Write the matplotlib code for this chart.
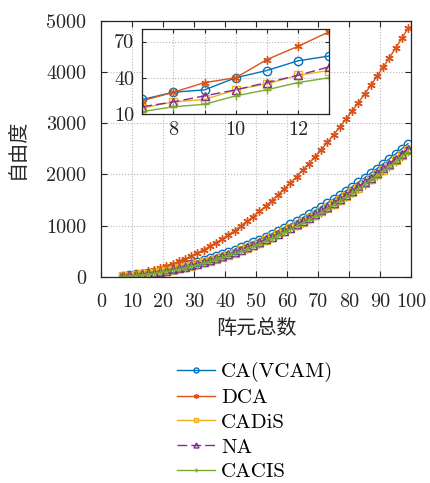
import matplotlib
matplotlib.use("Agg")
import matplotlib.pyplot as plt

plt.rcParams['font.family'] = ['cmr10', 'Noto Sans CJK SC', 'DejaVu Sans']
plt.rcParams['axes.formatter.use_mathtext'] = True

# ---- data ----
labels = ['CA(VCAM)', 'DCA', 'CADiS', 'NA', 'CACIS']
main_n = [7, 9, 11, 13, 15, 17, 19, 21, 23, 25, 27, 29, 31, 33, 35, 37, 39, 41, 43, 45,
          47, 49, 51, 53, 55, 57, 59, 61, 63, 65, 67, 69, 71, 73, 75, 77, 79, 81, 83, 85,
          87, 89, 91, 93, 95, 97, 99]
ca_main = [22, 30, 46, 58, 79, 98, 119, 142, 167, 194, 223, 254, 287, 322, 359, 398, 439,
           482, 527, 574, 623, 674, 727, 782, 839, 898, 959, 1022, 1087, 1154, 1223, 1294,
           1367, 1442, 1519, 1598, 1679, 1762, 1847, 1934, 2023, 2114, 2207, 2302, 2399,
           2498, 2599]
dca_main = [21, 36, 55, 78, 105, 136, 171, 210, 253, 300, 351, 406, 465, 528, 595, 666, 741,
            820, 903, 990, 1081, 1176, 1275, 1378, 1485, 1596, 1711, 1830, 1953, 2080, 2211,
            2346, 2485, 2628, 2775, 2926, 3081, 3240, 3403, 3570, 3741, 3916, 4095, 4278,
            4465, 4656, 4851]
cadis_main = [15, 22, 35, 46, 60, 77, 95, 116, 138, 163, 189, 218, 248, 281, 315, 352, 390,
              431, 473, 518, 564, 613, 663, 716, 770, 827, 885, 946, 1008, 1073, 1139, 1208,
              1278, 1351, 1425, 1502, 1580, 1661, 1743, 1828, 1914, 2003, 2093, 2186, 2280,
              2377, 2475]
na_main = [16, 25, 36, 49, 64, 81, 100, 121, 144, 169, 196, 225, 256, 289, 324, 361, 400,
           441, 484, 529, 576, 625, 676, 729, 784, 841, 900, 961, 1024, 1089, 1156, 1225,
           1296, 1369, 1444, 1521, 1600, 1681, 1764, 1849, 1936, 2025, 2116, 2209, 2304,
           2401, 2500]
cacis_main = [12, 18, 30, 40, 55, 71, 89, 108, 130, 154, 180, 208, 237, 269, 303, 339, 377,
              416, 458, 502, 548, 596, 645, 697, 751, 807, 865, 924, 986, 1050, 1116, 1184,
              1253, 1325, 1399, 1475, 1553, 1632, 1714, 1798, 1884, 1972, 2061, 2153, 2247,
              2343, 2441]

inset_n = [7, 8, 9, 10, 11, 12, 13]
ca_in = [22, 28, 30, 40, 46, 54, 58]
dca_in = [21, 28, 36, 40, 55, 66, 78]
cadis_in = [15, 20, 22, 30, 35, 42, 46]
na_in = [16, 20, 25, 30, 36, 42, 49]
cacis_in = [12, 16, 18, 25, 30, 36, 40]

main_xticks = [0, 10, 20, 30, 40, 50, 60, 70, 80, 90, 100]
main_yticks = [0, 1000, 2000, 3000, 4000, 5000]
inset_xticks = [7, 8, 9, 10, 11, 12, 13]
inset_xticklabels = ['', '8', '', '10', '', '12', '']
inset_yticks = [10, 40, 70]

colors = ['#0072BD', '#D95319', '#EDB120', '#7E2F8E', '#77AC30']
markers = ['o', (6, 2, 0), 's', '^', '+']
styles = ['-', '-', '-', (0, (7, 3)), '-']

main_series = [ca_main, dca_main, cadis_main, na_main, cacis_main]
inset_series = [ca_in, dca_in, cadis_in, na_in, cacis_in]

fig = plt.figure(figsize=(4.30, 4.83), dpi=100)
ax = fig.add_axes([0.236, 0.427, 0.720, 0.530])

for y, c, m, ls, lab in zip(main_series, colors, markers, styles, labels):
    ax.plot(main_n, y, color=c, marker=m, linestyle=ls, linewidth=1.0,
            markersize=6, markerfacecolor='none', markeredgewidth=1.0, label=lab)

ax.set_xlim(0, 100)
ax.set_ylim(0, 5000)
ax.set_xticks(main_xticks)
ax.set_xticklabels([str(v) for v in main_xticks])
ax.set_yticks(main_yticks)
ax.set_yticklabels([str(v) for v in main_yticks])
ax.tick_params(direction='in', top=True, right=True, length=4, width=0.8,
               labelsize=14.5, colors='#262626')
ax.tick_params(axis='x', pad=12)
ax.tick_params(axis='y', pad=11)
ax.grid(True, linestyle=':', color='#b8b8b8', linewidth=0.8)
for s in ax.spines.values():
    s.set_color('#262626')
    s.set_linewidth(0.9)
ax.set_xlabel('阵元总数', fontsize=14.5, family=['Noto Sans CJK SC'], labelpad=5,
              color='#262626')
ax.set_ylabel('自由度', fontsize=14.5, family=['Noto Sans CJK SC'], labelpad=13,
              color='#262626')

# inset
axin = fig.add_axes([0.331, 0.764, 0.434, 0.175])
for y, c, m, ls in zip(inset_series, colors, markers, styles):
    axin.plot(inset_n, y, color=c, marker=m, linestyle=ls, linewidth=1.0,
              markersize=6, markerfacecolor='none', markeredgewidth=1.0)
axin.set_xlim(7, 13)
axin.set_ylim(10, 80)
axin.set_xticks(inset_xticks)
axin.set_xticklabels(inset_xticklabels)
axin.set_yticks(inset_yticks)
axin.set_yticklabels([str(v) for v in inset_yticks])
axin.tick_params(direction='in', top=True, right=True, length=3, width=0.8,
                 labelsize=14.5, colors='#262626')
axin.tick_params(axis='x', pad=5)
axin.tick_params(axis='y', pad=6)
axin.grid(True, linestyle=':', color='#b8b8b8', linewidth=0.8)
for s in axin.spines.values():
    s.set_color('#262626')
    s.set_linewidth(0.9)

h, l = ax.get_legend_handles_labels()
fig.legend(h, l, loc='center left', bbox_to_anchor=(0.412, 0.127), frameon=False,
           fontsize=15, handlelength=1.8, handletextpad=0.3, labelspacing=0.3,
           borderpad=0, borderaxespad=0, markerscale=0.6)

fig.savefig('out.png', dpi=100)
